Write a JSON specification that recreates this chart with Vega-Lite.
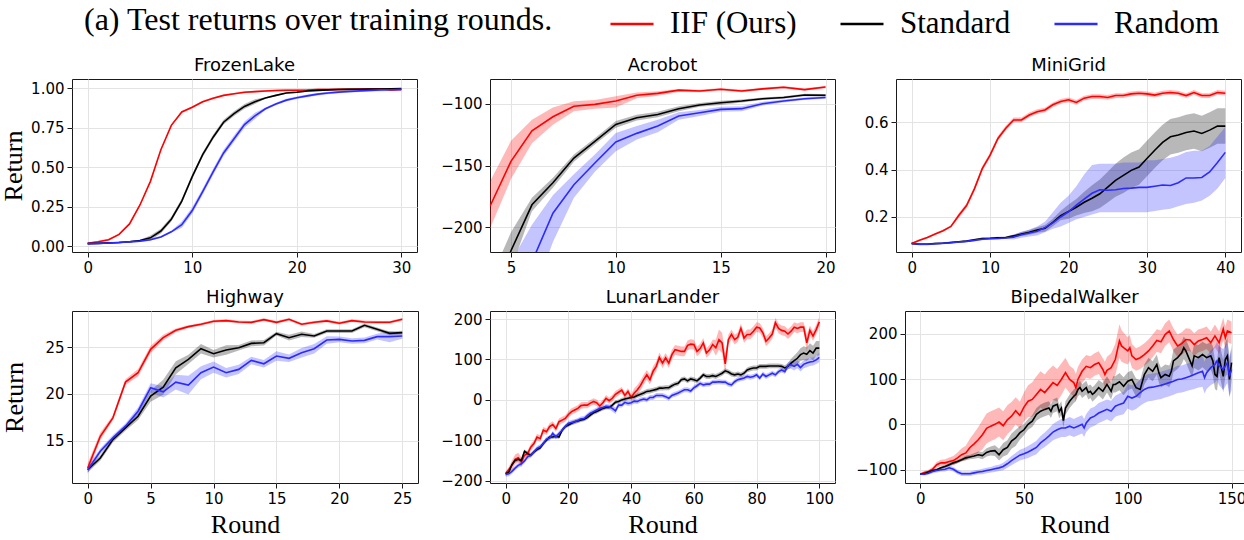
{
"$schema": "https://vega.github.io/schema/vega-lite/v6.json",
"padding": {"left": 0, "top": 1, "right": 0, "bottom": 0},
"background": "white",
"config": {
  "font": "DejaVu Sans",
  "view": {"stroke": "#1a1a1a", "strokeWidth": 1},
  "axis": {"domain": false, "grid": true, "gridColor": "#e3e3e3", "gridWidth": 1, "ticks": true, "tickColor": "#1a1a1a", "tickSize": 5, "tickWidth": 1, "labelFont": "DejaVu Sans", "labelFontSize": 15, "labelColor": "#000", "labelPadding": 3, "labelFlush": false, "labelOverlap": false, "titleFont": "Liberation Serif", "titleFontSize": 26, "titleFontWeight": "normal", "titleColor": "#000", "titlePadding": 4},
  "axisX": {"titlePadding": 5},
  "title": {"font": "DejaVu Sans", "fontSize": 18, "fontWeight": "normal", "color": "#000", "offset": 4, "anchor": "middle"}
},
"datasets": {
"fl": [
{"m":"IIF (Ours)","x":0,"y":0.017,"lo":0.011,"hi":0.023},{"m":"IIF (Ours)","x":1,"y":0.027,"lo":0.021,"hi":0.033},{"m":"IIF (Ours)","x":2,"y":0.04,"lo":0.034,"hi":0.046},{"m":"IIF (Ours)","x":3,"y":0.074,"lo":0.068,"hi":0.08},{"m":"IIF (Ours)","x":4,"y":0.14,"lo":0.134,"hi":0.146},{"m":"IIF (Ours)","x":5,"y":0.26,"lo":0.254,"hi":0.266},{"m":"IIF (Ours)","x":6,"y":0.41,"lo":0.404,"hi":0.416},{"m":"IIF (Ours)","x":7,"y":0.61,"lo":0.604,"hi":0.616},{"m":"IIF (Ours)","x":8,"y":0.765,"lo":0.759,"hi":0.771},{"m":"IIF (Ours)","x":9,"y":0.85,"lo":0.844,"hi":0.856},{"m":"IIF (Ours)","x":10,"y":0.88,"lo":0.874,"hi":0.886},{"m":"IIF (Ours)","x":11,"y":0.915,"lo":0.909,"hi":0.921},{"m":"IIF (Ours)","x":12,"y":0.937,"lo":0.931,"hi":0.943},{"m":"IIF (Ours)","x":13,"y":0.955,"lo":0.949,"hi":0.961},{"m":"IIF (Ours)","x":14,"y":0.965,"lo":0.959,"hi":0.971},{"m":"IIF (Ours)","x":15,"y":0.975,"lo":0.969,"hi":0.981},{"m":"IIF (Ours)","x":16,"y":0.979,"lo":0.973,"hi":0.985},{"m":"IIF (Ours)","x":17,"y":0.983,"lo":0.977,"hi":0.989},{"m":"IIF (Ours)","x":18,"y":0.986,"lo":0.98,"hi":0.992},{"m":"IIF (Ours)","x":19,"y":0.988,"lo":0.982,"hi":0.994},{"m":"IIF (Ours)","x":20,"y":0.988,"lo":0.982,"hi":0.994},{"m":"IIF (Ours)","x":21,"y":0.989,"lo":0.983,"hi":0.995},{"m":"IIF (Ours)","x":22,"y":0.992,"lo":0.986,"hi":0.998},{"m":"IIF (Ours)","x":23,"y":0.992,"lo":0.986,"hi":0.998},{"m":"IIF (Ours)","x":24,"y":0.993,"lo":0.987,"hi":0.999},{"m":"IIF (Ours)","x":25,"y":0.994,"lo":0.988,"hi":1.0},{"m":"IIF (Ours)","x":26,"y":0.995,"lo":0.989,"hi":1.0},{"m":"IIF (Ours)","x":27,"y":0.996,"lo":0.99,"hi":1.0},{"m":"IIF (Ours)","x":28,"y":0.997,"lo":0.991,"hi":1.0},{"m":"IIF (Ours)","x":29,"y":0.99,"lo":0.984,"hi":0.996},{"m":"IIF (Ours)","x":30,"y":0.993,"lo":0.987,"hi":0.999},
{"m":"Standard","x":0,"y":0.015,"lo":0.011,"hi":0.019},{"m":"Standard","x":1,"y":0.017,"lo":0.013,"hi":0.021},{"m":"Standard","x":2,"y":0.02,"lo":0.016,"hi":0.024},{"m":"Standard","x":3,"y":0.022,"lo":0.018,"hi":0.026},{"m":"Standard","x":4,"y":0.027,"lo":0.023,"hi":0.031},{"m":"Standard","x":5,"y":0.035,"lo":0.031,"hi":0.039},{"m":"Standard","x":6,"y":0.052,"lo":0.037,"hi":0.067},{"m":"Standard","x":7,"y":0.095,"lo":0.08,"hi":0.11},{"m":"Standard","x":8,"y":0.17,"lo":0.155,"hi":0.185},{"m":"Standard","x":9,"y":0.285,"lo":0.27,"hi":0.3},{"m":"Standard","x":10,"y":0.44,"lo":0.425,"hi":0.455},{"m":"Standard","x":11,"y":0.58,"lo":0.565,"hi":0.595},{"m":"Standard","x":12,"y":0.69,"lo":0.675,"hi":0.705},{"m":"Standard","x":13,"y":0.785,"lo":0.77,"hi":0.8},{"m":"Standard","x":14,"y":0.84,"lo":0.825,"hi":0.855},{"m":"Standard","x":15,"y":0.885,"lo":0.87,"hi":0.9},{"m":"Standard","x":16,"y":0.915,"lo":0.9,"hi":0.93},{"m":"Standard","x":17,"y":0.938,"lo":0.933,"hi":0.943},{"m":"Standard","x":18,"y":0.955,"lo":0.95,"hi":0.96},{"m":"Standard","x":19,"y":0.97,"lo":0.965,"hi":0.975},{"m":"Standard","x":20,"y":0.975,"lo":0.97,"hi":0.98},{"m":"Standard","x":21,"y":0.983,"lo":0.978,"hi":0.988},{"m":"Standard","x":22,"y":0.987,"lo":0.982,"hi":0.992},{"m":"Standard","x":23,"y":0.99,"lo":0.985,"hi":0.995},{"m":"Standard","x":24,"y":0.992,"lo":0.987,"hi":0.997},{"m":"Standard","x":25,"y":0.993,"lo":0.988,"hi":0.998},{"m":"Standard","x":26,"y":0.994,"lo":0.989,"hi":0.999},{"m":"Standard","x":27,"y":0.995,"lo":0.99,"hi":1.0},{"m":"Standard","x":28,"y":0.996,"lo":0.991,"hi":1.0},{"m":"Standard","x":29,"y":0.997,"lo":0.992,"hi":1.0},{"m":"Standard","x":30,"y":0.998,"lo":0.993,"hi":1.0},
{"m":"Random","x":0,"y":0.015,"lo":0.009,"hi":0.021},{"m":"Random","x":1,"y":0.017,"lo":0.011,"hi":0.023},{"m":"Random","x":2,"y":0.019,"lo":0.013,"hi":0.025},{"m":"Random","x":3,"y":0.022,"lo":0.016,"hi":0.028},{"m":"Random","x":4,"y":0.026,"lo":0.02,"hi":0.032},{"m":"Random","x":5,"y":0.031,"lo":0.025,"hi":0.037},{"m":"Random","x":6,"y":0.04,"lo":0.034,"hi":0.046},{"m":"Random","x":7,"y":0.057,"lo":0.051,"hi":0.063},{"m":"Random","x":8,"y":0.09,"lo":0.084,"hi":0.096},{"m":"Random","x":9,"y":0.135,"lo":0.115,"hi":0.155},{"m":"Random","x":10,"y":0.225,"lo":0.205,"hi":0.245},{"m":"Random","x":11,"y":0.345,"lo":0.325,"hi":0.365},{"m":"Random","x":12,"y":0.47,"lo":0.45,"hi":0.49},{"m":"Random","x":13,"y":0.59,"lo":0.57,"hi":0.61},{"m":"Random","x":14,"y":0.68,"lo":0.66,"hi":0.7},{"m":"Random","x":15,"y":0.77,"lo":0.75,"hi":0.79},{"m":"Random","x":16,"y":0.825,"lo":0.805,"hi":0.845},{"m":"Random","x":17,"y":0.87,"lo":0.862,"hi":0.878},{"m":"Random","x":18,"y":0.9,"lo":0.892,"hi":0.908},{"m":"Random","x":19,"y":0.925,"lo":0.917,"hi":0.933},{"m":"Random","x":20,"y":0.94,"lo":0.932,"hi":0.948},{"m":"Random","x":21,"y":0.952,"lo":0.944,"hi":0.96},{"m":"Random","x":22,"y":0.963,"lo":0.955,"hi":0.971},{"m":"Random","x":23,"y":0.97,"lo":0.962,"hi":0.978},{"m":"Random","x":24,"y":0.976,"lo":0.968,"hi":0.984},{"m":"Random","x":25,"y":0.98,"lo":0.972,"hi":0.988},{"m":"Random","x":26,"y":0.984,"lo":0.976,"hi":0.992},{"m":"Random","x":27,"y":0.987,"lo":0.979,"hi":0.995},{"m":"Random","x":28,"y":0.99,"lo":0.982,"hi":0.998},{"m":"Random","x":29,"y":0.991,"lo":0.983,"hi":0.999},{"m":"Random","x":30,"y":0.993,"lo":0.985,"hi":1.0}
],
"ac": [
{"m":"IIF (Ours)","x":4,"y":-183,"lo":-201,"hi":-163},{"m":"IIF (Ours)","x":5,"y":-146.6,"lo":-161,"hi":-130},{"m":"IIF (Ours)","x":6,"y":-122,"lo":-132,"hi":-113},{"m":"IIF (Ours)","x":7,"y":-110.6,"lo":-117,"hi":-103},{"m":"IIF (Ours)","x":8,"y":-102,"lo":-106,"hi":-98},{"m":"IIF (Ours)","x":9,"y":-100.5,"lo":-104,"hi":-97},{"m":"IIF (Ours)","x":10,"y":-97.8,"lo":-103,"hi":-94},{"m":"IIF (Ours)","x":11,"y":-93.2,"lo":-95.5,"hi":-91},{"m":"IIF (Ours)","x":12,"y":-91.6,"lo":-93.5,"hi":-90},{"m":"IIF (Ours)","x":13,"y":-89,"lo":-90.5,"hi":-88},{"m":"IIF (Ours)","x":14,"y":-89.7,"lo":-90.7,"hi":-88.7},{"m":"IIF (Ours)","x":15,"y":-88.3,"lo":-89.3,"hi":-87.3},{"m":"IIF (Ours)","x":16,"y":-89.7,"lo":-90.7,"hi":-88.7},{"m":"IIF (Ours)","x":17,"y":-88,"lo":-89,"hi":-87},{"m":"IIF (Ours)","x":18,"y":-86.7,"lo":-87.7,"hi":-85.7},{"m":"IIF (Ours)","x":19,"y":-88.6,"lo":-89.6,"hi":-87.6},{"m":"IIF (Ours)","x":20,"y":-86.5,"lo":-87.5,"hi":-85.5},
{"m":"Standard","x":4,"y":-265,"lo":-280,"hi":-243},{"m":"Standard","x":5,"y":-219,"lo":-234,"hi":-204},{"m":"Standard","x":6,"y":-181.8,"lo":-187,"hi":-176},{"m":"Standard","x":7,"y":-164,"lo":-168,"hi":-160},{"m":"Standard","x":8,"y":-144,"lo":-147,"hi":-141},{"m":"Standard","x":9,"y":-130.4,"lo":-133,"hi":-128},{"m":"Standard","x":10,"y":-116.8,"lo":-119.5,"hi":-114},{"m":"Standard","x":11,"y":-111.4,"lo":-113.5,"hi":-109},{"m":"Standard","x":12,"y":-108.7,"lo":-111,"hi":-106.5},{"m":"Standard","x":13,"y":-104,"lo":-106,"hi":-102},{"m":"Standard","x":14,"y":-101,"lo":-102.5,"hi":-99.5},{"m":"Standard","x":15,"y":-99.2,"lo":-101,"hi":-97.5},{"m":"Standard","x":16,"y":-97.8,"lo":-99,"hi":-96.5},{"m":"Standard","x":17,"y":-96,"lo":-97,"hi":-95},{"m":"Standard","x":18,"y":-95,"lo":-96,"hi":-94},{"m":"Standard","x":19,"y":-93,"lo":-94,"hi":-92},{"m":"Standard","x":20,"y":-93.2,"lo":-94.2,"hi":-92.2},
{"m":"Random","x":5,"y":-265,"lo":-295,"hi":-228},{"m":"Random","x":6,"y":-228,"lo":-258,"hi":-198},{"m":"Random","x":7,"y":-188.6,"lo":-212,"hi":-174},{"m":"Random","x":8,"y":-165.6,"lo":-176,"hi":-157},{"m":"Random","x":9,"y":-148,"lo":-155,"hi":-141},{"m":"Random","x":10,"y":-130.9,"lo":-138.5,"hi":-123.6},{"m":"Random","x":11,"y":-124,"lo":-129,"hi":-118},{"m":"Random","x":12,"y":-118,"lo":-123,"hi":-113},{"m":"Random","x":13,"y":-110,"lo":-113,"hi":-107},{"m":"Random","x":14,"y":-107.3,"lo":-110,"hi":-105},{"m":"Random","x":15,"y":-104.6,"lo":-106.5,"hi":-102.5},{"m":"Random","x":16,"y":-104,"lo":-106,"hi":-102},{"m":"Random","x":17,"y":-100,"lo":-101.5,"hi":-98.5},{"m":"Random","x":18,"y":-97.8,"lo":-99,"hi":-96.5},{"m":"Random","x":19,"y":-96,"lo":-97,"hi":-95},{"m":"Random","x":20,"y":-95,"lo":-96,"hi":-94}
],
"mg": [
{"m":"IIF (Ours)","x":0,"y":0.088,"lo":0.084,"hi":0.092},{"m":"IIF (Ours)","x":1,"y":0.102,"lo":0.098,"hi":0.106},{"m":"IIF (Ours)","x":2,"y":0.113,"lo":0.109,"hi":0.117},{"m":"IIF (Ours)","x":3,"y":0.128,"lo":0.124,"hi":0.132},{"m":"IIF (Ours)","x":4,"y":0.142,"lo":0.138,"hi":0.146},{"m":"IIF (Ours)","x":5,"y":0.16,"lo":0.156,"hi":0.164},{"m":"IIF (Ours)","x":6,"y":0.206,"lo":0.196,"hi":0.216},{"m":"IIF (Ours)","x":7,"y":0.248,"lo":0.238,"hi":0.258},{"m":"IIF (Ours)","x":8,"y":0.319,"lo":0.309,"hi":0.329},{"m":"IIF (Ours)","x":9,"y":0.404,"lo":0.394,"hi":0.414},{"m":"IIF (Ours)","x":10,"y":0.461,"lo":0.451,"hi":0.471},{"m":"IIF (Ours)","x":11,"y":0.532,"lo":0.522,"hi":0.542},{"m":"IIF (Ours)","x":12,"y":0.575,"lo":0.565,"hi":0.585},{"m":"IIF (Ours)","x":13,"y":0.61,"lo":0.6,"hi":0.62},{"m":"IIF (Ours)","x":14,"y":0.61,"lo":0.6,"hi":0.62},{"m":"IIF (Ours)","x":15,"y":0.631,"lo":0.621,"hi":0.641},{"m":"IIF (Ours)","x":16,"y":0.645,"lo":0.635,"hi":0.655},{"m":"IIF (Ours)","x":17,"y":0.652,"lo":0.642,"hi":0.662},{"m":"IIF (Ours)","x":18,"y":0.674,"lo":0.664,"hi":0.684},{"m":"IIF (Ours)","x":19,"y":0.688,"lo":0.678,"hi":0.698},{"m":"IIF (Ours)","x":20,"y":0.695,"lo":0.685,"hi":0.705},{"m":"IIF (Ours)","x":21,"y":0.684,"lo":0.674,"hi":0.694},{"m":"IIF (Ours)","x":22,"y":0.702,"lo":0.692,"hi":0.712},{"m":"IIF (Ours)","x":23,"y":0.709,"lo":0.699,"hi":0.719},{"m":"IIF (Ours)","x":24,"y":0.709,"lo":0.699,"hi":0.719},{"m":"IIF (Ours)","x":25,"y":0.705,"lo":0.695,"hi":0.715},{"m":"IIF (Ours)","x":26,"y":0.713,"lo":0.703,"hi":0.723},{"m":"IIF (Ours)","x":27,"y":0.713,"lo":0.703,"hi":0.723},{"m":"IIF (Ours)","x":28,"y":0.72,"lo":0.71,"hi":0.73},{"m":"IIF (Ours)","x":29,"y":0.723,"lo":0.713,"hi":0.733},{"m":"IIF (Ours)","x":30,"y":0.72,"lo":0.71,"hi":0.73},{"m":"IIF (Ours)","x":31,"y":0.715,"lo":0.705,"hi":0.725},{"m":"IIF (Ours)","x":32,"y":0.723,"lo":0.713,"hi":0.733},{"m":"IIF (Ours)","x":33,"y":0.726,"lo":0.716,"hi":0.736},{"m":"IIF (Ours)","x":34,"y":0.723,"lo":0.713,"hi":0.733},{"m":"IIF (Ours)","x":35,"y":0.713,"lo":0.703,"hi":0.723},{"m":"IIF (Ours)","x":36,"y":0.726,"lo":0.716,"hi":0.736},{"m":"IIF (Ours)","x":37,"y":0.713,"lo":0.703,"hi":0.723},{"m":"IIF (Ours)","x":38,"y":0.713,"lo":0.703,"hi":0.723},{"m":"IIF (Ours)","x":39,"y":0.726,"lo":0.716,"hi":0.736},{"m":"IIF (Ours)","x":40,"y":0.723,"lo":0.713,"hi":0.733},
{"m":"Standard","x":0,"y":0.088,"lo":0.084,"hi":0.092},{"m":"Standard","x":1,"y":0.085,"lo":0.081,"hi":0.089},{"m":"Standard","x":2,"y":0.085,"lo":0.081,"hi":0.089},{"m":"Standard","x":3,"y":0.088,"lo":0.084,"hi":0.092},{"m":"Standard","x":4,"y":0.089,"lo":0.085,"hi":0.093},{"m":"Standard","x":5,"y":0.092,"lo":0.088,"hi":0.096},{"m":"Standard","x":6,"y":0.095,"lo":0.091,"hi":0.099},{"m":"Standard","x":7,"y":0.098,"lo":0.094,"hi":0.102},{"m":"Standard","x":8,"y":0.104,"lo":0.1,"hi":0.108},{"m":"Standard","x":9,"y":0.109,"lo":0.105,"hi":0.113},{"m":"Standard","x":10,"y":0.11,"lo":0.106,"hi":0.114},{"m":"Standard","x":11,"y":0.112,"lo":0.108,"hi":0.116},{"m":"Standard","x":12,"y":0.113,"lo":0.109,"hi":0.117},{"m":"Standard","x":13,"y":0.12,"lo":0.114,"hi":0.126},{"m":"Standard","x":14,"y":0.128,"lo":0.12,"hi":0.136},{"m":"Standard","x":15,"y":0.135,"lo":0.125,"hi":0.145},{"m":"Standard","x":16,"y":0.145,"lo":0.133,"hi":0.157},{"m":"Standard","x":17,"y":0.152,"lo":0.138,"hi":0.166},{"m":"Standard","x":18,"y":0.177,"lo":0.161,"hi":0.193},{"m":"Standard","x":19,"y":0.206,"lo":0.186,"hi":0.226},{"m":"Standard","x":20,"y":0.223,"lo":0.193,"hi":0.253},{"m":"Standard","x":21,"y":0.241,"lo":0.206,"hi":0.276},{"m":"Standard","x":22,"y":0.262,"lo":0.217,"hi":0.307},{"m":"Standard","x":23,"y":0.279,"lo":0.224,"hi":0.334},{"m":"Standard","x":24,"y":0.298,"lo":0.238,"hi":0.358},{"m":"Standard","x":25,"y":0.326,"lo":0.261,"hi":0.391},{"m":"Standard","x":26,"y":0.355,"lo":0.285,"hi":0.425},{"m":"Standard","x":27,"y":0.376,"lo":0.301,"hi":0.451},{"m":"Standard","x":28,"y":0.397,"lo":0.322,"hi":0.472},{"m":"Standard","x":29,"y":0.411,"lo":0.336,"hi":0.486},{"m":"Standard","x":30,"y":0.447,"lo":0.372,"hi":0.522},{"m":"Standard","x":31,"y":0.482,"lo":0.407,"hi":0.557},{"m":"Standard","x":32,"y":0.515,"lo":0.44,"hi":0.59},{"m":"Standard","x":33,"y":0.539,"lo":0.464,"hi":0.614},{"m":"Standard","x":34,"y":0.546,"lo":0.471,"hi":0.621},{"m":"Standard","x":35,"y":0.557,"lo":0.482,"hi":0.632},{"m":"Standard","x":36,"y":0.563,"lo":0.488,"hi":0.638},{"m":"Standard","x":37,"y":0.553,"lo":0.478,"hi":0.628},{"m":"Standard","x":38,"y":0.567,"lo":0.492,"hi":0.642},{"m":"Standard","x":39,"y":0.584,"lo":0.509,"hi":0.659},{"m":"Standard","x":40,"y":0.584,"lo":0.509,"hi":0.659},
{"m":"Random","x":0,"y":0.088,"lo":0.084,"hi":0.092},{"m":"Random","x":1,"y":0.085,"lo":0.081,"hi":0.089},{"m":"Random","x":2,"y":0.085,"lo":0.081,"hi":0.089},{"m":"Random","x":3,"y":0.087,"lo":0.083,"hi":0.091},{"m":"Random","x":4,"y":0.089,"lo":0.085,"hi":0.093},{"m":"Random","x":5,"y":0.091,"lo":0.087,"hi":0.095},{"m":"Random","x":6,"y":0.094,"lo":0.09,"hi":0.098},{"m":"Random","x":7,"y":0.097,"lo":0.093,"hi":0.101},{"m":"Random","x":8,"y":0.101,"lo":0.097,"hi":0.105},{"m":"Random","x":9,"y":0.106,"lo":0.102,"hi":0.11},{"m":"Random","x":10,"y":0.108,"lo":0.104,"hi":0.112},{"m":"Random","x":11,"y":0.109,"lo":0.105,"hi":0.113},{"m":"Random","x":12,"y":0.111,"lo":0.107,"hi":0.115},{"m":"Random","x":13,"y":0.115,"lo":0.105,"hi":0.125},{"m":"Random","x":14,"y":0.125,"lo":0.112,"hi":0.138},{"m":"Random","x":15,"y":0.132,"lo":0.117,"hi":0.147},{"m":"Random","x":16,"y":0.14,"lo":0.122,"hi":0.16},{"m":"Random","x":17,"y":0.155,"lo":0.135,"hi":0.18},{"m":"Random","x":18,"y":0.175,"lo":0.15,"hi":0.22},{"m":"Random","x":19,"y":0.2,"lo":0.16,"hi":0.26},{"m":"Random","x":20,"y":0.222,"lo":0.175,"hi":0.29},{"m":"Random","x":21,"y":0.25,"lo":0.19,"hi":0.33},{"m":"Random","x":22,"y":0.275,"lo":0.2,"hi":0.38},{"m":"Random","x":23,"y":0.3,"lo":0.21,"hi":0.42},{"m":"Random","x":24,"y":0.315,"lo":0.22,"hi":0.425},{"m":"Random","x":25,"y":0.313,"lo":0.22,"hi":0.425},{"m":"Random","x":26,"y":0.315,"lo":0.22,"hi":0.425},{"m":"Random","x":27,"y":0.32,"lo":0.22,"hi":0.43},{"m":"Random","x":28,"y":0.322,"lo":0.22,"hi":0.43},{"m":"Random","x":29,"y":0.325,"lo":0.22,"hi":0.43},{"m":"Random","x":30,"y":0.325,"lo":0.22,"hi":0.44},{"m":"Random","x":31,"y":0.33,"lo":0.225,"hi":0.44},{"m":"Random","x":32,"y":0.335,"lo":0.23,"hi":0.445},{"m":"Random","x":33,"y":0.333,"lo":0.235,"hi":0.45},{"m":"Random","x":34,"y":0.345,"lo":0.245,"hi":0.46},{"m":"Random","x":35,"y":0.365,"lo":0.255,"hi":0.475},{"m":"Random","x":36,"y":0.365,"lo":0.26,"hi":0.48},{"m":"Random","x":37,"y":0.367,"lo":0.27,"hi":0.48},{"m":"Random","x":38,"y":0.39,"lo":0.29,"hi":0.5},{"m":"Random","x":39,"y":0.43,"lo":0.32,"hi":0.54},{"m":"Random","x":40,"y":0.473,"lo":0.365,"hi":0.58}
],
"hw": [
{"m":"IIF (Ours)","x":0,"y":12.07,"lo":11.57,"hi":12.57},{"m":"IIF (Ours)","x":1,"y":15.46,"lo":15.06,"hi":15.86},{"m":"IIF (Ours)","x":2,"y":17.43,"lo":17.18,"hi":17.68},{"m":"IIF (Ours)","x":3,"y":21.25,"lo":20.95,"hi":21.55},{"m":"IIF (Ours)","x":4,"y":22.25,"lo":21.85,"hi":22.65},{"m":"IIF (Ours)","x":5,"y":24.75,"lo":24.35,"hi":25.15},{"m":"IIF (Ours)","x":6,"y":26.0,"lo":25.7,"hi":26.3},{"m":"IIF (Ours)","x":7,"y":26.79,"lo":26.59,"hi":26.99},{"m":"IIF (Ours)","x":8,"y":27.18,"lo":27.03,"hi":27.33},{"m":"IIF (Ours)","x":9,"y":27.43,"lo":27.28,"hi":27.58},{"m":"IIF (Ours)","x":10,"y":27.75,"lo":27.6,"hi":27.9},{"m":"IIF (Ours)","x":11,"y":27.82,"lo":27.67,"hi":27.97},{"m":"IIF (Ours)","x":12,"y":27.68,"lo":27.53,"hi":27.83},{"m":"IIF (Ours)","x":13,"y":27.64,"lo":27.49,"hi":27.79},{"m":"IIF (Ours)","x":14,"y":27.93,"lo":27.78,"hi":28.08},{"m":"IIF (Ours)","x":15,"y":27.64,"lo":27.49,"hi":27.79},{"m":"IIF (Ours)","x":16,"y":27.96,"lo":27.81,"hi":28.11},{"m":"IIF (Ours)","x":17,"y":27.43,"lo":27.28,"hi":27.58},{"m":"IIF (Ours)","x":18,"y":27.64,"lo":27.49,"hi":27.79},{"m":"IIF (Ours)","x":19,"y":27.79,"lo":27.64,"hi":27.94},{"m":"IIF (Ours)","x":20,"y":27.54,"lo":27.39,"hi":27.69},{"m":"IIF (Ours)","x":21,"y":27.82,"lo":27.67,"hi":27.97},{"m":"IIF (Ours)","x":22,"y":27.68,"lo":27.53,"hi":27.83},{"m":"IIF (Ours)","x":23,"y":27.64,"lo":27.49,"hi":27.79},{"m":"IIF (Ours)","x":24,"y":27.64,"lo":27.49,"hi":27.79},{"m":"IIF (Ours)","x":25,"y":27.96,"lo":27.81,"hi":28.11},
{"m":"Standard","x":0,"y":11.89,"lo":11.59,"hi":12.19},{"m":"Standard","x":1,"y":13.14,"lo":12.84,"hi":13.44},{"m":"Standard","x":2,"y":15.1,"lo":14.8,"hi":15.4},{"m":"Standard","x":3,"y":16.36,"lo":16.06,"hi":16.66},{"m":"Standard","x":4,"y":17.6,"lo":17.2,"hi":18.0},{"m":"Standard","x":5,"y":19.75,"lo":19.15,"hi":20.35},{"m":"Standard","x":6,"y":20.71,"lo":19.91,"hi":21.51},{"m":"Standard","x":7,"y":22.79,"lo":22.09,"hi":23.49},{"m":"Standard","x":8,"y":23.68,"lo":23.18,"hi":24.18},{"m":"Standard","x":9,"y":24.82,"lo":24.32,"hi":25.32},{"m":"Standard","x":10,"y":24.29,"lo":23.89,"hi":24.69},{"m":"Standard","x":11,"y":24.68,"lo":24.18,"hi":25.18},{"m":"Standard","x":12,"y":24.93,"lo":24.63,"hi":25.23},{"m":"Standard","x":13,"y":25.39,"lo":25.09,"hi":25.69},{"m":"Standard","x":14,"y":25.46,"lo":25.16,"hi":25.76},{"m":"Standard","x":15,"y":26.43,"lo":26.23,"hi":26.63},{"m":"Standard","x":16,"y":26.0,"lo":25.7,"hi":26.3},{"m":"Standard","x":17,"y":26.36,"lo":26.06,"hi":26.66},{"m":"Standard","x":18,"y":26.18,"lo":25.98,"hi":26.38},{"m":"Standard","x":19,"y":26.71,"lo":26.51,"hi":26.91},{"m":"Standard","x":20,"y":26.71,"lo":26.51,"hi":26.91},{"m":"Standard","x":21,"y":26.71,"lo":26.51,"hi":26.91},{"m":"Standard","x":22,"y":27.32,"lo":27.12,"hi":27.52},{"m":"Standard","x":23,"y":26.89,"lo":26.69,"hi":27.09},{"m":"Standard","x":24,"y":26.46,"lo":26.26,"hi":26.66},{"m":"Standard","x":25,"y":26.54,"lo":26.34,"hi":26.74},
{"m":"Random","x":0,"y":11.89,"lo":11.49,"hi":12.29},{"m":"Random","x":1,"y":13.86,"lo":13.56,"hi":14.16},{"m":"Random","x":2,"y":15.29,"lo":14.99,"hi":15.59},{"m":"Random","x":3,"y":16.54,"lo":16.24,"hi":16.84},{"m":"Random","x":4,"y":18.14,"lo":17.74,"hi":18.54},{"m":"Random","x":5,"y":20.64,"lo":20.14,"hi":21.14},{"m":"Random","x":6,"y":20.21,"lo":19.61,"hi":20.81},{"m":"Random","x":7,"y":21.25,"lo":20.45,"hi":22.05},{"m":"Random","x":8,"y":20.93,"lo":19.93,"hi":21.93},{"m":"Random","x":9,"y":22.25,"lo":21.55,"hi":22.95},{"m":"Random","x":10,"y":22.86,"lo":22.26,"hi":23.46},{"m":"Random","x":11,"y":22.25,"lo":21.75,"hi":22.75},{"m":"Random","x":12,"y":22.61,"lo":22.11,"hi":23.11},{"m":"Random","x":13,"y":23.57,"lo":23.17,"hi":23.97},{"m":"Random","x":14,"y":23.21,"lo":22.81,"hi":23.61},{"m":"Random","x":15,"y":24.04,"lo":23.54,"hi":24.54},{"m":"Random","x":16,"y":23.79,"lo":23.39,"hi":24.19},{"m":"Random","x":17,"y":24.39,"lo":23.89,"hi":24.89},{"m":"Random","x":18,"y":24.82,"lo":24.32,"hi":25.32},{"m":"Random","x":19,"y":25.75,"lo":25.35,"hi":26.15},{"m":"Random","x":20,"y":25.82,"lo":25.52,"hi":26.12},{"m":"Random","x":21,"y":25.64,"lo":25.34,"hi":25.94},{"m":"Random","x":22,"y":25.71,"lo":25.41,"hi":26.01},{"m":"Random","x":23,"y":26.11,"lo":25.81,"hi":26.41},{"m":"Random","x":24,"y":26.11,"lo":25.51,"hi":26.71},{"m":"Random","x":25,"y":26.18,"lo":25.88,"hi":26.48}
],
"ll": [
{"m":"IIF (Ours)","x":0,"y":-183,"lo":-189,"hi":-177},{"m":"IIF (Ours)","x":1,"y":-172,"lo":-178,"hi":-166},{"m":"IIF (Ours)","x":2,"y":-162,"lo":-174,"hi":-150},{"m":"IIF (Ours)","x":3,"y":-147,"lo":-159,"hi":-135},{"m":"IIF (Ours)","x":4,"y":-143,"lo":-155,"hi":-131},{"m":"IIF (Ours)","x":5,"y":-154,"lo":-166,"hi":-142},{"m":"IIF (Ours)","x":6,"y":-137,"lo":-145,"hi":-129},{"m":"IIF (Ours)","x":7,"y":-133,"lo":-141,"hi":-125},{"m":"IIF (Ours)","x":8,"y":-117,"lo":-125,"hi":-109},{"m":"IIF (Ours)","x":9,"y":-108,"lo":-116,"hi":-100},{"m":"IIF (Ours)","x":10,"y":-92,"lo":-100,"hi":-84},{"m":"IIF (Ours)","x":11,"y":-96,"lo":-104,"hi":-88},{"m":"IIF (Ours)","x":12,"y":-75,"lo":-83,"hi":-67},{"m":"IIF (Ours)","x":13,"y":-79,"lo":-87,"hi":-71},{"m":"IIF (Ours)","x":14,"y":-66,"lo":-74,"hi":-58},{"m":"IIF (Ours)","x":15,"y":-61,"lo":-69,"hi":-53},{"m":"IIF (Ours)","x":16,"y":-71,"lo":-79,"hi":-63},{"m":"IIF (Ours)","x":17,"y":-54,"lo":-62,"hi":-46},{"m":"IIF (Ours)","x":18,"y":-50,"lo":-58,"hi":-42},{"m":"IIF (Ours)","x":19,"y":-46,"lo":-54,"hi":-38},{"m":"IIF (Ours)","x":20,"y":-36,"lo":-44,"hi":-28},{"m":"IIF (Ours)","x":21,"y":-29,"lo":-37,"hi":-21},{"m":"IIF (Ours)","x":22,"y":-25,"lo":-33,"hi":-17},{"m":"IIF (Ours)","x":23,"y":-21,"lo":-29,"hi":-13},{"m":"IIF (Ours)","x":24,"y":-14,"lo":-22,"hi":-6},{"m":"IIF (Ours)","x":25,"y":-13,"lo":-21,"hi":-5},{"m":"IIF (Ours)","x":26,"y":-13,"lo":-21,"hi":-5},{"m":"IIF (Ours)","x":27,"y":-8,"lo":-16,"hi":0},{"m":"IIF (Ours)","x":28,"y":-4,"lo":-12,"hi":4},{"m":"IIF (Ours)","x":29,"y":-7,"lo":-15,"hi":1},{"m":"IIF (Ours)","x":30,"y":-15,"lo":-23,"hi":-7},{"m":"IIF (Ours)","x":31,"y":-7,"lo":-15,"hi":1},{"m":"IIF (Ours)","x":32,"y":4,"lo":-4,"hi":12},{"m":"IIF (Ours)","x":33,"y":-2,"lo":-10,"hi":6},{"m":"IIF (Ours)","x":34,"y":4,"lo":-4,"hi":12},{"m":"IIF (Ours)","x":35,"y":14,"lo":6,"hi":22},{"m":"IIF (Ours)","x":36,"y":19,"lo":11,"hi":27},{"m":"IIF (Ours)","x":37,"y":24,"lo":16,"hi":32},{"m":"IIF (Ours)","x":38,"y":11,"lo":3,"hi":19},{"m":"IIF (Ours)","x":39,"y":21,"lo":13,"hi":29},{"m":"IIF (Ours)","x":40,"y":6,"lo":-2,"hi":14},{"m":"IIF (Ours)","x":41,"y":17,"lo":5,"hi":29},{"m":"IIF (Ours)","x":42,"y":25,"lo":13,"hi":37},{"m":"IIF (Ours)","x":43,"y":36,"lo":24,"hi":48},{"m":"IIF (Ours)","x":44,"y":50,"lo":38,"hi":62},{"m":"IIF (Ours)","x":45,"y":62,"lo":50,"hi":74},{"m":"IIF (Ours)","x":46,"y":50,"lo":38,"hi":62},{"m":"IIF (Ours)","x":47,"y":71,"lo":59,"hi":83},{"m":"IIF (Ours)","x":48,"y":83,"lo":71,"hi":95},{"m":"IIF (Ours)","x":49,"y":105,"lo":93,"hi":117},{"m":"IIF (Ours)","x":50,"y":91,"lo":79,"hi":103},{"m":"IIF (Ours)","x":51,"y":104,"lo":92,"hi":116},{"m":"IIF (Ours)","x":52,"y":91,"lo":79,"hi":103},{"m":"IIF (Ours)","x":53,"y":112,"lo":100,"hi":124},{"m":"IIF (Ours)","x":54,"y":124,"lo":112,"hi":136},{"m":"IIF (Ours)","x":55,"y":122,"lo":110,"hi":134},{"m":"IIF (Ours)","x":56,"y":120,"lo":108,"hi":132},{"m":"IIF (Ours)","x":57,"y":120,"lo":108,"hi":132},{"m":"IIF (Ours)","x":58,"y":135,"lo":123,"hi":147},{"m":"IIF (Ours)","x":59,"y":138,"lo":126,"hi":150},{"m":"IIF (Ours)","x":60,"y":137,"lo":125,"hi":149},{"m":"IIF (Ours)","x":61,"y":120,"lo":108,"hi":132},{"m":"IIF (Ours)","x":62,"y":127,"lo":115,"hi":139},{"m":"IIF (Ours)","x":63,"y":141,"lo":129,"hi":153},{"m":"IIF (Ours)","x":64,"y":116,"lo":104,"hi":128},{"m":"IIF (Ours)","x":65,"y":124,"lo":112,"hi":136},{"m":"IIF (Ours)","x":66,"y":137,"lo":125,"hi":149},{"m":"IIF (Ours)","x":67,"y":129,"lo":109,"hi":149},{"m":"IIF (Ours)","x":68,"y":149,"lo":124,"hi":174},{"m":"IIF (Ours)","x":69,"y":141,"lo":116,"hi":166},{"m":"IIF (Ours)","x":70,"y":89,"lo":64,"hi":114},{"m":"IIF (Ours)","x":71,"y":149,"lo":137,"hi":161},{"m":"IIF (Ours)","x":72,"y":162,"lo":150,"hi":174},{"m":"IIF (Ours)","x":73,"y":149,"lo":137,"hi":161},{"m":"IIF (Ours)","x":74,"y":155,"lo":143,"hi":167},{"m":"IIF (Ours)","x":75,"y":177,"lo":165,"hi":189},{"m":"IIF (Ours)","x":76,"y":153,"lo":141,"hi":165},{"m":"IIF (Ours)","x":77,"y":162,"lo":150,"hi":174},{"m":"IIF (Ours)","x":78,"y":162,"lo":150,"hi":174},{"m":"IIF (Ours)","x":79,"y":170,"lo":158,"hi":182},{"m":"IIF (Ours)","x":80,"y":180,"lo":168,"hi":192},{"m":"IIF (Ours)","x":81,"y":178,"lo":166,"hi":190},{"m":"IIF (Ours)","x":82,"y":166,"lo":154,"hi":178},{"m":"IIF (Ours)","x":83,"y":145,"lo":133,"hi":157},{"m":"IIF (Ours)","x":84,"y":153,"lo":141,"hi":165},{"m":"IIF (Ours)","x":85,"y":163,"lo":151,"hi":175},{"m":"IIF (Ours)","x":86,"y":191,"lo":179,"hi":203},{"m":"IIF (Ours)","x":87,"y":177,"lo":165,"hi":189},{"m":"IIF (Ours)","x":88,"y":172,"lo":160,"hi":184},{"m":"IIF (Ours)","x":89,"y":170,"lo":158,"hi":182},{"m":"IIF (Ours)","x":90,"y":163,"lo":151,"hi":175},{"m":"IIF (Ours)","x":91,"y":170,"lo":158,"hi":182},{"m":"IIF (Ours)","x":92,"y":180,"lo":168,"hi":192},{"m":"IIF (Ours)","x":93,"y":177,"lo":165,"hi":189},{"m":"IIF (Ours)","x":94,"y":180,"lo":168,"hi":192},{"m":"IIF (Ours)","x":95,"y":180,"lo":168,"hi":192},{"m":"IIF (Ours)","x":96,"y":141,"lo":121,"hi":161},{"m":"IIF (Ours)","x":97,"y":172,"lo":160,"hi":184},{"m":"IIF (Ours)","x":98,"y":158,"lo":146,"hi":170},{"m":"IIF (Ours)","x":99,"y":174,"lo":162,"hi":186},{"m":"IIF (Ours)","x":100,"y":193,"lo":181,"hi":205},
{"m":"Standard","x":0,"y":-183,"lo":-188,"hi":-178},{"m":"Standard","x":1,"y":-179,"lo":-184,"hi":-174},{"m":"Standard","x":2,"y":-160,"lo":-165,"hi":-155},{"m":"Standard","x":3,"y":-150,"lo":-155,"hi":-145},{"m":"Standard","x":4,"y":-147,"lo":-152,"hi":-142},{"m":"Standard","x":5,"y":-150,"lo":-155,"hi":-145},{"m":"Standard","x":6,"y":-127,"lo":-132,"hi":-122},{"m":"Standard","x":7,"y":-133,"lo":-138,"hi":-128},{"m":"Standard","x":8,"y":-137,"lo":-142,"hi":-132},{"m":"Standard","x":9,"y":-129,"lo":-134,"hi":-124},{"m":"Standard","x":10,"y":-123,"lo":-128,"hi":-118},{"m":"Standard","x":11,"y":-119,"lo":-124,"hi":-114},{"m":"Standard","x":12,"y":-108,"lo":-113,"hi":-103},{"m":"Standard","x":13,"y":-100,"lo":-105,"hi":-95},{"m":"Standard","x":14,"y":-92,"lo":-97,"hi":-87},{"m":"Standard","x":15,"y":-92,"lo":-97,"hi":-87},{"m":"Standard","x":16,"y":-90,"lo":-95,"hi":-85},{"m":"Standard","x":17,"y":-92,"lo":-97,"hi":-87},{"m":"Standard","x":18,"y":-75,"lo":-80,"hi":-70},{"m":"Standard","x":19,"y":-66,"lo":-71,"hi":-61},{"m":"Standard","x":20,"y":-62,"lo":-67,"hi":-57},{"m":"Standard","x":21,"y":-58,"lo":-63,"hi":-53},{"m":"Standard","x":22,"y":-54,"lo":-59,"hi":-49},{"m":"Standard","x":23,"y":-52,"lo":-57,"hi":-47},{"m":"Standard","x":24,"y":-50,"lo":-55,"hi":-45},{"m":"Standard","x":25,"y":-48,"lo":-53,"hi":-43},{"m":"Standard","x":26,"y":-44,"lo":-49,"hi":-39},{"m":"Standard","x":27,"y":-38,"lo":-43,"hi":-33},{"m":"Standard","x":28,"y":-32,"lo":-37,"hi":-27},{"m":"Standard","x":29,"y":-29,"lo":-34,"hi":-24},{"m":"Standard","x":30,"y":-25,"lo":-30,"hi":-20},{"m":"Standard","x":31,"y":-21,"lo":-26,"hi":-16},{"m":"Standard","x":32,"y":-19,"lo":-24,"hi":-14},{"m":"Standard","x":33,"y":-19,"lo":-24,"hi":-14},{"m":"Standard","x":34,"y":-13,"lo":-18,"hi":-8},{"m":"Standard","x":35,"y":-6,"lo":-11,"hi":-1},{"m":"Standard","x":36,"y":-4,"lo":-9,"hi":1},{"m":"Standard","x":37,"y":0,"lo":-5,"hi":5},{"m":"Standard","x":38,"y":2,"lo":-3,"hi":7},{"m":"Standard","x":39,"y":4,"lo":-1,"hi":9},{"m":"Standard","x":40,"y":6,"lo":1,"hi":11},{"m":"Standard","x":41,"y":7,"lo":1,"hi":13},{"m":"Standard","x":42,"y":11,"lo":5,"hi":17},{"m":"Standard","x":43,"y":14,"lo":8,"hi":20},{"m":"Standard","x":44,"y":17,"lo":11,"hi":23},{"m":"Standard","x":45,"y":21,"lo":15,"hi":27},{"m":"Standard","x":46,"y":22,"lo":16,"hi":28},{"m":"Standard","x":47,"y":24,"lo":18,"hi":30},{"m":"Standard","x":48,"y":26,"lo":20,"hi":32},{"m":"Standard","x":49,"y":29,"lo":23,"hi":35},{"m":"Standard","x":50,"y":29,"lo":23,"hi":35},{"m":"Standard","x":51,"y":30,"lo":24,"hi":36},{"m":"Standard","x":52,"y":30,"lo":24,"hi":36},{"m":"Standard","x":53,"y":35,"lo":29,"hi":41},{"m":"Standard","x":54,"y":39,"lo":33,"hi":45},{"m":"Standard","x":55,"y":41,"lo":35,"hi":47},{"m":"Standard","x":56,"y":50,"lo":44,"hi":56},{"m":"Standard","x":57,"y":52,"lo":46,"hi":58},{"m":"Standard","x":58,"y":47,"lo":41,"hi":53},{"m":"Standard","x":59,"y":52,"lo":46,"hi":58},{"m":"Standard","x":60,"y":50,"lo":44,"hi":56},{"m":"Standard","x":61,"y":47,"lo":41,"hi":53},{"m":"Standard","x":62,"y":54,"lo":48,"hi":60},{"m":"Standard","x":63,"y":62,"lo":56,"hi":68},{"m":"Standard","x":64,"y":58,"lo":52,"hi":64},{"m":"Standard","x":65,"y":58,"lo":52,"hi":64},{"m":"Standard","x":66,"y":60,"lo":54,"hi":66},{"m":"Standard","x":67,"y":58,"lo":52,"hi":64},{"m":"Standard","x":68,"y":62,"lo":56,"hi":68},{"m":"Standard","x":69,"y":66,"lo":60,"hi":72},{"m":"Standard","x":70,"y":72,"lo":66,"hi":78},{"m":"Standard","x":71,"y":69,"lo":63,"hi":75},{"m":"Standard","x":72,"y":64,"lo":58,"hi":70},{"m":"Standard","x":73,"y":62,"lo":56,"hi":68},{"m":"Standard","x":74,"y":64,"lo":58,"hi":70},{"m":"Standard","x":75,"y":62,"lo":56,"hi":68},{"m":"Standard","x":76,"y":66,"lo":60,"hi":72},{"m":"Standard","x":77,"y":74,"lo":68,"hi":80},{"m":"Standard","x":78,"y":77,"lo":71,"hi":83},{"m":"Standard","x":79,"y":79,"lo":73,"hi":85},{"m":"Standard","x":80,"y":79,"lo":73,"hi":85},{"m":"Standard","x":81,"y":83,"lo":77,"hi":89},{"m":"Standard","x":82,"y":83,"lo":77,"hi":89},{"m":"Standard","x":83,"y":83,"lo":77,"hi":89},{"m":"Standard","x":84,"y":84,"lo":78,"hi":90},{"m":"Standard","x":85,"y":84,"lo":78,"hi":90},{"m":"Standard","x":86,"y":84,"lo":78,"hi":90},{"m":"Standard","x":87,"y":84,"lo":78,"hi":90},{"m":"Standard","x":88,"y":83,"lo":77,"hi":89},{"m":"Standard","x":89,"y":79,"lo":72,"hi":86},{"m":"Standard","x":90,"y":83,"lo":75,"hi":91},{"m":"Standard","x":91,"y":91,"lo":80,"hi":102},{"m":"Standard","x":92,"y":97,"lo":84,"hi":110},{"m":"Standard","x":93,"y":103,"lo":88,"hi":118},{"m":"Standard","x":94,"y":112,"lo":96,"hi":128},{"m":"Standard","x":95,"y":116,"lo":99,"hi":133},{"m":"Standard","x":96,"y":113,"lo":96,"hi":130},{"m":"Standard","x":97,"y":122,"lo":104,"hi":140},{"m":"Standard","x":98,"y":116,"lo":98,"hi":134},{"m":"Standard","x":99,"y":128,"lo":110,"hi":146},{"m":"Standard","x":100,"y":128,"lo":110,"hi":146},
{"m":"Random","x":0,"y":-184,"lo":-190,"hi":-178},{"m":"Random","x":1,"y":-183,"lo":-189,"hi":-177},{"m":"Random","x":2,"y":-177,"lo":-183,"hi":-171},{"m":"Random","x":3,"y":-169,"lo":-175,"hi":-163},{"m":"Random","x":4,"y":-162,"lo":-168,"hi":-156},{"m":"Random","x":5,"y":-158,"lo":-164,"hi":-152},{"m":"Random","x":6,"y":-151,"lo":-157,"hi":-145},{"m":"Random","x":7,"y":-141,"lo":-147,"hi":-135},{"m":"Random","x":8,"y":-137,"lo":-143,"hi":-131},{"m":"Random","x":9,"y":-129,"lo":-135,"hi":-123},{"m":"Random","x":10,"y":-120,"lo":-126,"hi":-114},{"m":"Random","x":11,"y":-116,"lo":-122,"hi":-110},{"m":"Random","x":12,"y":-108,"lo":-114,"hi":-102},{"m":"Random","x":13,"y":-97,"lo":-103,"hi":-91},{"m":"Random","x":14,"y":-95,"lo":-101,"hi":-89},{"m":"Random","x":15,"y":-83,"lo":-89,"hi":-77},{"m":"Random","x":16,"y":-92,"lo":-98,"hi":-86},{"m":"Random","x":17,"y":-83,"lo":-89,"hi":-77},{"m":"Random","x":18,"y":-75,"lo":-81,"hi":-69},{"m":"Random","x":19,"y":-66,"lo":-72,"hi":-60},{"m":"Random","x":20,"y":-58,"lo":-64,"hi":-52},{"m":"Random","x":21,"y":-56,"lo":-62,"hi":-50},{"m":"Random","x":22,"y":-54,"lo":-60,"hi":-48},{"m":"Random","x":23,"y":-51,"lo":-57,"hi":-45},{"m":"Random","x":24,"y":-47,"lo":-53,"hi":-41},{"m":"Random","x":25,"y":-46,"lo":-52,"hi":-40},{"m":"Random","x":26,"y":-39,"lo":-45,"hi":-33},{"m":"Random","x":27,"y":-33,"lo":-39,"hi":-27},{"m":"Random","x":28,"y":-29,"lo":-35,"hi":-23},{"m":"Random","x":29,"y":-25,"lo":-31,"hi":-19},{"m":"Random","x":30,"y":-21,"lo":-27,"hi":-15},{"m":"Random","x":31,"y":-19,"lo":-25,"hi":-13},{"m":"Random","x":32,"y":-16,"lo":-22,"hi":-10},{"m":"Random","x":33,"y":-17,"lo":-23,"hi":-11},{"m":"Random","x":34,"y":-21,"lo":-29,"hi":-13},{"m":"Random","x":35,"y":-27,"lo":-35,"hi":-19},{"m":"Random","x":36,"y":-13,"lo":-19,"hi":-7},{"m":"Random","x":37,"y":-13,"lo":-19,"hi":-7},{"m":"Random","x":38,"y":-6,"lo":-12,"hi":0},{"m":"Random","x":39,"y":-9,"lo":-15,"hi":-3},{"m":"Random","x":40,"y":-7,"lo":-13,"hi":-1},{"m":"Random","x":41,"y":-3,"lo":-9,"hi":3},{"m":"Random","x":42,"y":-4,"lo":-10,"hi":2},{"m":"Random","x":43,"y":0,"lo":-6,"hi":6},{"m":"Random","x":44,"y":2,"lo":-4,"hi":8},{"m":"Random","x":45,"y":0,"lo":-6,"hi":6},{"m":"Random","x":46,"y":6,"lo":0,"hi":12},{"m":"Random","x":47,"y":6,"lo":0,"hi":12},{"m":"Random","x":48,"y":11,"lo":5,"hi":17},{"m":"Random","x":49,"y":11,"lo":5,"hi":17},{"m":"Random","x":50,"y":11,"lo":5,"hi":17},{"m":"Random","x":51,"y":8,"lo":2,"hi":14},{"m":"Random","x":52,"y":4,"lo":-2,"hi":10},{"m":"Random","x":53,"y":11,"lo":5,"hi":17},{"m":"Random","x":54,"y":14,"lo":8,"hi":20},{"m":"Random","x":55,"y":17,"lo":11,"hi":23},{"m":"Random","x":56,"y":21,"lo":15,"hi":27},{"m":"Random","x":57,"y":25,"lo":19,"hi":31},{"m":"Random","x":58,"y":25,"lo":19,"hi":31},{"m":"Random","x":59,"y":22,"lo":16,"hi":28},{"m":"Random","x":60,"y":30,"lo":24,"hi":36},{"m":"Random","x":61,"y":35,"lo":29,"hi":41},{"m":"Random","x":62,"y":41,"lo":35,"hi":47},{"m":"Random","x":63,"y":37,"lo":31,"hi":43},{"m":"Random","x":64,"y":39,"lo":33,"hi":45},{"m":"Random","x":65,"y":39,"lo":33,"hi":45},{"m":"Random","x":66,"y":44,"lo":38,"hi":50},{"m":"Random","x":67,"y":44,"lo":38,"hi":50},{"m":"Random","x":68,"y":45,"lo":39,"hi":51},{"m":"Random","x":69,"y":44,"lo":38,"hi":50},{"m":"Random","x":70,"y":44,"lo":38,"hi":50},{"m":"Random","x":71,"y":39,"lo":33,"hi":45},{"m":"Random","x":72,"y":37,"lo":31,"hi":43},{"m":"Random","x":73,"y":45,"lo":39,"hi":51},{"m":"Random","x":74,"y":50,"lo":44,"hi":56},{"m":"Random","x":75,"y":52,"lo":46,"hi":58},{"m":"Random","x":76,"y":54,"lo":48,"hi":60},{"m":"Random","x":77,"y":58,"lo":52,"hi":64},{"m":"Random","x":78,"y":56,"lo":50,"hi":62},{"m":"Random","x":79,"y":58,"lo":52,"hi":64},{"m":"Random","x":80,"y":62,"lo":56,"hi":68},{"m":"Random","x":81,"y":54,"lo":48,"hi":60},{"m":"Random","x":82,"y":64,"lo":58,"hi":70},{"m":"Random","x":83,"y":58,"lo":52,"hi":64},{"m":"Random","x":84,"y":62,"lo":56,"hi":68},{"m":"Random","x":85,"y":66,"lo":60,"hi":72},{"m":"Random","x":86,"y":62,"lo":56,"hi":68},{"m":"Random","x":87,"y":70,"lo":64,"hi":76},{"m":"Random","x":88,"y":74,"lo":68,"hi":80},{"m":"Random","x":89,"y":70,"lo":64,"hi":76},{"m":"Random","x":90,"y":85,"lo":77,"hi":93},{"m":"Random","x":91,"y":87,"lo":77,"hi":97},{"m":"Random","x":92,"y":83,"lo":73,"hi":93},{"m":"Random","x":93,"y":88,"lo":78,"hi":98},{"m":"Random","x":94,"y":80,"lo":70,"hi":90},{"m":"Random","x":95,"y":88,"lo":78,"hi":98},{"m":"Random","x":96,"y":91,"lo":81,"hi":101},{"m":"Random","x":97,"y":94,"lo":84,"hi":104},{"m":"Random","x":98,"y":95,"lo":85,"hi":105},{"m":"Random","x":99,"y":99,"lo":89,"hi":109},{"m":"Random","x":100,"y":105,"lo":93,"hi":117}
],
"bw": [
{"m":"IIF (Ours)","x":0,"y":-110,"lo":-112,"hi":-108},{"m":"IIF (Ours)","x":2,"y":-106,"lo":-109,"hi":-103},{"m":"IIF (Ours)","x":4,"y":-104,"lo":-108,"hi":-100},{"m":"IIF (Ours)","x":6,"y":-99,"lo":-104,"hi":-94},{"m":"IIF (Ours)","x":8,"y":-89,"lo":-95,"hi":-83},{"m":"IIF (Ours)","x":10,"y":-85,"lo":-92,"hi":-78},{"m":"IIF (Ours)","x":12,"y":-85,"lo":-93,"hi":-77},{"m":"IIF (Ours)","x":14,"y":-82,"lo":-91,"hi":-73},{"m":"IIF (Ours)","x":16,"y":-80,"lo":-90,"hi":-70},{"m":"IIF (Ours)","x":18,"y":-74,"lo":-86,"hi":-62},{"m":"IIF (Ours)","x":20,"y":-67,"lo":-81,"hi":-53},{"m":"IIF (Ours)","x":22,"y":-63,"lo":-79,"hi":-47},{"m":"IIF (Ours)","x":24,"y":-51,"lo":-71,"hi":-31},{"m":"IIF (Ours)","x":26,"y":-43,"lo":-67,"hi":-19},{"m":"IIF (Ours)","x":28,"y":-34,"lo":-62,"hi":-6},{"m":"IIF (Ours)","x":30,"y":-23,"lo":-55,"hi":9},{"m":"IIF (Ours)","x":32,"y":-9,"lo":-42,"hi":24},{"m":"IIF (Ours)","x":34,"y":-4,"lo":-37,"hi":29},{"m":"IIF (Ours)","x":36,"y":0,"lo":-33,"hi":33},{"m":"IIF (Ours)","x":38,"y":5,"lo":-27,"hi":37},{"m":"IIF (Ours)","x":40,"y":-3,"lo":-35,"hi":29},{"m":"IIF (Ours)","x":42,"y":10,"lo":-22,"hi":42},{"m":"IIF (Ours)","x":44,"y":18,"lo":-13,"hi":49},{"m":"IIF (Ours)","x":46,"y":30,"lo":0,"hi":60},{"m":"IIF (Ours)","x":48,"y":20,"lo":-10,"hi":50},{"m":"IIF (Ours)","x":50,"y":38,"lo":6,"hi":70},{"m":"IIF (Ours)","x":52,"y":51,"lo":16,"hi":86},{"m":"IIF (Ours)","x":54,"y":55,"lo":17,"hi":93},{"m":"IIF (Ours)","x":56,"y":66,"lo":26,"hi":106},{"m":"IIF (Ours)","x":58,"y":77,"lo":37,"hi":117},{"m":"IIF (Ours)","x":60,"y":70,"lo":30,"hi":110},{"m":"IIF (Ours)","x":62,"y":81,"lo":41,"hi":121},{"m":"IIF (Ours)","x":64,"y":92,"lo":54,"hi":130},{"m":"IIF (Ours)","x":66,"y":86,"lo":50,"hi":122},{"m":"IIF (Ours)","x":68,"y":99,"lo":64,"hi":134},{"m":"IIF (Ours)","x":70,"y":114,"lo":81,"hi":147},{"m":"IIF (Ours)","x":72,"y":99,"lo":69,"hi":129},{"m":"IIF (Ours)","x":74,"y":92,"lo":62,"hi":122},{"m":"IIF (Ours)","x":75,"y":81,"lo":51,"hi":111},{"m":"IIF (Ours)","x":76,"y":99,"lo":71,"hi":127},{"m":"IIF (Ours)","x":78,"y":117,"lo":91,"hi":143},{"m":"IIF (Ours)","x":80,"y":128,"lo":103,"hi":153},{"m":"IIF (Ours)","x":82,"y":125,"lo":100,"hi":150},{"m":"IIF (Ours)","x":84,"y":132,"lo":107,"hi":157},{"m":"IIF (Ours)","x":86,"y":136,"lo":111,"hi":161},{"m":"IIF (Ours)","x":88,"y":121,"lo":96,"hi":146},{"m":"IIF (Ours)","x":89,"y":110,"lo":82,"hi":138},{"m":"IIF (Ours)","x":90,"y":119,"lo":89,"hi":149},{"m":"IIF (Ours)","x":92,"y":125,"lo":93,"hi":157},{"m":"IIF (Ours)","x":94,"y":143,"lo":108,"hi":178},{"m":"IIF (Ours)","x":96,"y":184,"lo":147,"hi":221},{"m":"IIF (Ours)","x":97,"y":173,"lo":138,"hi":208},{"m":"IIF (Ours)","x":98,"y":169,"lo":136,"hi":202},{"m":"IIF (Ours)","x":100,"y":162,"lo":132,"hi":192},{"m":"IIF (Ours)","x":101,"y":169,"lo":141,"hi":197},{"m":"IIF (Ours)","x":102,"y":151,"lo":125,"hi":177},{"m":"IIF (Ours)","x":104,"y":143,"lo":118,"hi":168},{"m":"IIF (Ours)","x":106,"y":147,"lo":122,"hi":172},{"m":"IIF (Ours)","x":108,"y":154,"lo":129,"hi":179},{"m":"IIF (Ours)","x":110,"y":162,"lo":137,"hi":187},{"m":"IIF (Ours)","x":112,"y":173,"lo":148,"hi":198},{"m":"IIF (Ours)","x":114,"y":185,"lo":160,"hi":210},{"m":"IIF (Ours)","x":116,"y":182,"lo":157,"hi":207},{"m":"IIF (Ours)","x":118,"y":198,"lo":173,"hi":223},{"m":"IIF (Ours)","x":120,"y":206,"lo":181,"hi":231},{"m":"IIF (Ours)","x":122,"y":187,"lo":162,"hi":212},{"m":"IIF (Ours)","x":124,"y":173,"lo":148,"hi":198},{"m":"IIF (Ours)","x":126,"y":178,"lo":153,"hi":203},{"m":"IIF (Ours)","x":128,"y":187,"lo":162,"hi":212},{"m":"IIF (Ours)","x":130,"y":186,"lo":161,"hi":211},{"m":"IIF (Ours)","x":132,"y":176,"lo":151,"hi":201},{"m":"IIF (Ours)","x":134,"y":184,"lo":159,"hi":209},{"m":"IIF (Ours)","x":136,"y":187,"lo":162,"hi":212},{"m":"IIF (Ours)","x":138,"y":191,"lo":166,"hi":216},{"m":"IIF (Ours)","x":140,"y":180,"lo":155,"hi":205},{"m":"IIF (Ours)","x":142,"y":195,"lo":170,"hi":220},{"m":"IIF (Ours)","x":144,"y":180,"lo":155,"hi":205},{"m":"IIF (Ours)","x":146,"y":210,"lo":185,"hi":235},{"m":"IIF (Ours)","x":147,"y":191,"lo":166,"hi":216},{"m":"IIF (Ours)","x":148,"y":206,"lo":181,"hi":231},{"m":"IIF (Ours)","x":150,"y":202,"lo":177,"hi":227},
{"m":"Standard","x":0,"y":-110,"lo":-112,"hi":-108},{"m":"Standard","x":2,"y":-109,"lo":-111,"hi":-107},{"m":"Standard","x":4,"y":-105,"lo":-107,"hi":-103},{"m":"Standard","x":6,"y":-102,"lo":-105,"hi":-99},{"m":"Standard","x":8,"y":-100,"lo":-103,"hi":-97},{"m":"Standard","x":10,"y":-96,"lo":-99,"hi":-93},{"m":"Standard","x":12,"y":-93,"lo":-96,"hi":-90},{"m":"Standard","x":14,"y":-89,"lo":-93,"hi":-85},{"m":"Standard","x":16,"y":-85,"lo":-89,"hi":-81},{"m":"Standard","x":18,"y":-82,"lo":-86,"hi":-78},{"m":"Standard","x":20,"y":-78,"lo":-82,"hi":-74},{"m":"Standard","x":22,"y":-74,"lo":-79,"hi":-69},{"m":"Standard","x":24,"y":-72,"lo":-77,"hi":-67},{"m":"Standard","x":26,"y":-70,"lo":-76,"hi":-64},{"m":"Standard","x":28,"y":-67,"lo":-74,"hi":-60},{"m":"Standard","x":30,"y":-69,"lo":-77,"hi":-61},{"m":"Standard","x":32,"y":-62,"lo":-71,"hi":-53},{"m":"Standard","x":34,"y":-59,"lo":-69,"hi":-49},{"m":"Standard","x":36,"y":-58,"lo":-70,"hi":-46},{"m":"Standard","x":38,"y":-67,"lo":-80,"hi":-54},{"m":"Standard","x":40,"y":-56,"lo":-71,"hi":-41},{"m":"Standard","x":42,"y":-51,"lo":-67,"hi":-35},{"m":"Standard","x":44,"y":-37,"lo":-54,"hi":-20},{"m":"Standard","x":46,"y":-30,"lo":-48,"hi":-12},{"m":"Standard","x":48,"y":-19,"lo":-34,"hi":-4},{"m":"Standard","x":50,"y":-12,"lo":-24,"hi":0},{"m":"Standard","x":52,"y":0,"lo":-12,"hi":12},{"m":"Standard","x":54,"y":7,"lo":-6,"hi":20},{"m":"Standard","x":56,"y":22,"lo":8,"hi":36},{"m":"Standard","x":58,"y":29,"lo":14,"hi":44},{"m":"Standard","x":60,"y":33,"lo":18,"hi":48},{"m":"Standard","x":62,"y":36,"lo":21,"hi":51},{"m":"Standard","x":63,"y":29,"lo":14,"hi":44},{"m":"Standard","x":64,"y":40,"lo":25,"hi":55},{"m":"Standard","x":66,"y":44,"lo":29,"hi":59},{"m":"Standard","x":67,"y":28,"lo":13,"hi":43},{"m":"Standard","x":68,"y":36,"lo":21,"hi":51},{"m":"Standard","x":69,"y":8,"lo":-7,"hi":23},{"m":"Standard","x":70,"y":36,"lo":21,"hi":51},{"m":"Standard","x":72,"y":51,"lo":36,"hi":66},{"m":"Standard","x":74,"y":62,"lo":47,"hi":77},{"m":"Standard","x":75,"y":66,"lo":51,"hi":81},{"m":"Standard","x":76,"y":77,"lo":62,"hi":92},{"m":"Standard","x":77,"y":81,"lo":66,"hi":96},{"m":"Standard","x":78,"y":73,"lo":58,"hi":88},{"m":"Standard","x":80,"y":81,"lo":66,"hi":96},{"m":"Standard","x":81,"y":70,"lo":55,"hi":85},{"m":"Standard","x":82,"y":73,"lo":58,"hi":88},{"m":"Standard","x":83,"y":66,"lo":50,"hi":82},{"m":"Standard","x":84,"y":70,"lo":54,"hi":86},{"m":"Standard","x":86,"y":81,"lo":64,"hi":98},{"m":"Standard","x":88,"y":73,"lo":55,"hi":91},{"m":"Standard","x":90,"y":88,"lo":70,"hi":106},{"m":"Standard","x":92,"y":73,"lo":55,"hi":91},{"m":"Standard","x":93,"y":88,"lo":70,"hi":106},{"m":"Standard","x":94,"y":88,"lo":70,"hi":106},{"m":"Standard","x":96,"y":94,"lo":75,"hi":113},{"m":"Standard","x":98,"y":84,"lo":64,"hi":104},{"m":"Standard","x":100,"y":95,"lo":75,"hi":115},{"m":"Standard","x":102,"y":99,"lo":79,"hi":119},{"m":"Standard","x":104,"y":81,"lo":61,"hi":101},{"m":"Standard","x":106,"y":77,"lo":57,"hi":97},{"m":"Standard","x":108,"y":110,"lo":88,"hi":132},{"m":"Standard","x":110,"y":125,"lo":103,"hi":147},{"m":"Standard","x":112,"y":117,"lo":95,"hi":139},{"m":"Standard","x":114,"y":132,"lo":110,"hi":154},{"m":"Standard","x":115,"y":114,"lo":92,"hi":136},{"m":"Standard","x":116,"y":103,"lo":81,"hi":125},{"m":"Standard","x":118,"y":110,"lo":88,"hi":132},{"m":"Standard","x":120,"y":106,"lo":82,"hi":130},{"m":"Standard","x":121,"y":117,"lo":93,"hi":141},{"m":"Standard","x":122,"y":140,"lo":115,"hi":165},{"m":"Standard","x":124,"y":147,"lo":122,"hi":172},{"m":"Standard","x":126,"y":158,"lo":133,"hi":183},{"m":"Standard","x":127,"y":169,"lo":144,"hi":194},{"m":"Standard","x":128,"y":162,"lo":137,"hi":187},{"m":"Standard","x":130,"y":140,"lo":114,"hi":166},{"m":"Standard","x":131,"y":129,"lo":103,"hi":155},{"m":"Standard","x":132,"y":151,"lo":124,"hi":178},{"m":"Standard","x":134,"y":147,"lo":119,"hi":175},{"m":"Standard","x":136,"y":154,"lo":126,"hi":182},{"m":"Standard","x":138,"y":147,"lo":117,"hi":177},{"m":"Standard","x":140,"y":151,"lo":121,"hi":181},{"m":"Standard","x":141,"y":140,"lo":108,"hi":172},{"m":"Standard","x":142,"y":110,"lo":78,"hi":142},{"m":"Standard","x":143,"y":106,"lo":74,"hi":138},{"m":"Standard","x":144,"y":147,"lo":113,"hi":181},{"m":"Standard","x":146,"y":106,"lo":70,"hi":142},{"m":"Standard","x":147,"y":143,"lo":105,"hi":181},{"m":"Standard","x":148,"y":151,"lo":111,"hi":191},{"m":"Standard","x":149,"y":99,"lo":59,"hi":139},{"m":"Standard","x":150,"y":136,"lo":96,"hi":176},
{"m":"Random","x":0,"y":-110,"lo":-112,"hi":-108},{"m":"Random","x":2,"y":-110,"lo":-113,"hi":-107},{"m":"Random","x":4,"y":-108,"lo":-111,"hi":-105},{"m":"Random","x":6,"y":-104,"lo":-108,"hi":-100},{"m":"Random","x":8,"y":-102,"lo":-106,"hi":-98},{"m":"Random","x":10,"y":-100,"lo":-104,"hi":-96},{"m":"Random","x":12,"y":-99,"lo":-104,"hi":-94},{"m":"Random","x":14,"y":-96,"lo":-101,"hi":-91},{"m":"Random","x":16,"y":-99,"lo":-104,"hi":-94},{"m":"Random","x":18,"y":-105,"lo":-110,"hi":-100},{"m":"Random","x":20,"y":-109,"lo":-114,"hi":-104},{"m":"Random","x":22,"y":-109,"lo":-114,"hi":-104},{"m":"Random","x":24,"y":-109,"lo":-114,"hi":-104},{"m":"Random","x":26,"y":-107,"lo":-112,"hi":-102},{"m":"Random","x":28,"y":-105,"lo":-110,"hi":-100},{"m":"Random","x":30,"y":-104,"lo":-110,"hi":-98},{"m":"Random","x":32,"y":-102,"lo":-108,"hi":-96},{"m":"Random","x":34,"y":-100,"lo":-106,"hi":-94},{"m":"Random","x":36,"y":-98,"lo":-105,"hi":-91},{"m":"Random","x":38,"y":-96,"lo":-103,"hi":-89},{"m":"Random","x":40,"y":-93,"lo":-101,"hi":-85},{"m":"Random","x":42,"y":-87,"lo":-96,"hi":-78},{"m":"Random","x":44,"y":-80,"lo":-90,"hi":-70},{"m":"Random","x":46,"y":-74,"lo":-85,"hi":-63},{"m":"Random","x":48,"y":-68,"lo":-80,"hi":-56},{"m":"Random","x":50,"y":-65,"lo":-77,"hi":-53},{"m":"Random","x":52,"y":-61,"lo":-74,"hi":-48},{"m":"Random","x":54,"y":-56,"lo":-70,"hi":-42},{"m":"Random","x":56,"y":-51,"lo":-66,"hi":-36},{"m":"Random","x":58,"y":-41,"lo":-56,"hi":-26},{"m":"Random","x":60,"y":-34,"lo":-50,"hi":-18},{"m":"Random","x":62,"y":-26,"lo":-43,"hi":-9},{"m":"Random","x":64,"y":-17,"lo":-35,"hi":1},{"m":"Random","x":66,"y":-12,"lo":-31,"hi":7},{"m":"Random","x":68,"y":-8,"lo":-28,"hi":12},{"m":"Random","x":70,"y":-8,"lo":-28,"hi":12},{"m":"Random","x":72,"y":-4,"lo":-24,"hi":16},{"m":"Random","x":74,"y":-8,"lo":-28,"hi":12},{"m":"Random","x":76,"y":-4,"lo":-24,"hi":16},{"m":"Random","x":78,"y":0,"lo":-20,"hi":20},{"m":"Random","x":79,"y":-8,"lo":-28,"hi":12},{"m":"Random","x":80,"y":3,"lo":-17,"hi":23},{"m":"Random","x":82,"y":14,"lo":-7,"hi":35},{"m":"Random","x":84,"y":18,"lo":-3,"hi":39},{"m":"Random","x":86,"y":25,"lo":3,"hi":47},{"m":"Random","x":88,"y":29,"lo":7,"hi":51},{"m":"Random","x":90,"y":33,"lo":11,"hi":55},{"m":"Random","x":92,"y":29,"lo":6,"hi":52},{"m":"Random","x":94,"y":40,"lo":17,"hi":63},{"m":"Random","x":96,"y":44,"lo":20,"hi":68},{"m":"Random","x":98,"y":47,"lo":22,"hi":72},{"m":"Random","x":100,"y":62,"lo":35,"hi":89},{"m":"Random","x":102,"y":58,"lo":30,"hi":86},{"m":"Random","x":104,"y":62,"lo":34,"hi":90},{"m":"Random","x":106,"y":70,"lo":41,"hi":99},{"m":"Random","x":108,"y":77,"lo":47,"hi":107},{"m":"Random","x":110,"y":81,"lo":51,"hi":111},{"m":"Random","x":112,"y":82,"lo":52,"hi":112},{"m":"Random","x":114,"y":84,"lo":54,"hi":114},{"m":"Random","x":116,"y":86,"lo":56,"hi":116},{"m":"Random","x":118,"y":89,"lo":59,"hi":119},{"m":"Random","x":120,"y":92,"lo":62,"hi":122},{"m":"Random","x":122,"y":95,"lo":65,"hi":125},{"m":"Random","x":124,"y":99,"lo":69,"hi":129},{"m":"Random","x":126,"y":100,"lo":70,"hi":130},{"m":"Random","x":128,"y":103,"lo":73,"hi":133},{"m":"Random","x":130,"y":106,"lo":76,"hi":136},{"m":"Random","x":132,"y":110,"lo":78,"hi":142},{"m":"Random","x":134,"y":114,"lo":81,"hi":147},{"m":"Random","x":136,"y":117,"lo":83,"hi":151},{"m":"Random","x":137,"y":103,"lo":68,"hi":138},{"m":"Random","x":138,"y":114,"lo":78,"hi":150},{"m":"Random","x":140,"y":125,"lo":87,"hi":163},{"m":"Random","x":142,"y":132,"lo":92,"hi":172},{"m":"Random","x":143,"y":140,"lo":98,"hi":182},{"m":"Random","x":144,"y":129,"lo":86,"hi":172},{"m":"Random","x":146,"y":121,"lo":76,"hi":166},{"m":"Random","x":148,"y":136,"lo":91,"hi":181},{"m":"Random","x":149,"y":106,"lo":61,"hi":151},{"m":"Random","x":150,"y":121,"lo":76,"hi":166}
]
},
"columns": 3,
"align": {"row": "each", "column": "none"},
"spacing": {"row": 12, "column": 16},
"concat": [
{"title": "FrozenLake", "width": 345, "height": 173, "data": {"name": "fl"},
 "encoding": {"x": {"field": "x", "type": "quantitative", "scale": {"domain": [-1.5, 31.5], "nice": false, "zero": false}, "axis": {"values": [0, 10, 20, 30], "title": null}}},
 "layer": [
  {"mark": {"type": "area", "clip": true, "fillOpacity": 0.28}, "encoding": {"y": {"field": "lo", "type": "quantitative", "stack": null, "scale": {"domain": [-0.038, 1.059], "nice": false, "zero": false}, "axis": {"values": [0, 0.25, 0.5, 0.75, 1], "format": ".2f", "title": "Return"}}, "y2": {"field": "hi"}, "fill": {"field": "m", "type": "nominal", "scale": {"domain": ["Standard", "IIF (Ours)", "Random"], "range": ["#000000", "#ff0000", "#2b2bff"]}, "legend": null}}},
  {"mark": {"type": "line", "clip": true, "strokeWidth": 1.6}, "encoding": {"y": {"field": "y", "type": "quantitative", "scale": {"domain": [-0.038, 1.059], "nice": false, "zero": false}, "axis": {"values": [0, 0.25, 0.5, 0.75, 1], "format": ".2f", "title": "Return"}}, "color": {"field": "m", "type": "nominal", "scale": {"domain": ["IIF (Ours)", "Standard", "Random"], "range": ["#ff0000", "#000000", "#2b2bff"]}, "legend": {"orient": "none", "legendX": 12, "legendY": -78, "direction": "horizontal", "title": "(a) Test returns over training rounds.", "titleOrient": "left", "titlePadding": 56, "titleLimit": 700, "titleFont": "Liberation Serif", "titleFontSize": 32, "titleFontWeight": "normal", "titleColor": "#000", "labelFont": "Liberation Serif", "labelFontSize": 31, "labelColor": "#000", "labelLimit": 300, "labelOffset": 15, "columnPadding": 38, "symbolType": "stroke", "symbolSize": 1849, "symbolStrokeWidth": 2.5}}}}
 ]},
{"title": "Acrobot", "width": 345, "height": 173, "data": {"name": "ac"},
 "encoding": {"x": {"field": "x", "type": "quantitative", "scale": {"domain": [4, 20.45], "nice": false, "zero": false}, "axis": {"values": [5, 10, 15, 20], "title": null}}},
 "layer": [
  {"mark": {"type": "area", "clip": true, "fillOpacity": 0.28}, "encoding": {"y": {"field": "lo", "type": "quantitative", "stack": null, "scale": {"domain": [-220, -80], "nice": false, "zero": false}, "axis": {"values": [-200, -150, -100], "title": null, "minExtent": 54}}, "y2": {"field": "hi"}, "fill": {"field": "m", "type": "nominal", "scale": {"domain": ["Standard", "IIF (Ours)", "Random"], "range": ["#000000", "#ff0000", "#2b2bff"]}, "legend": null}}},
  {"mark": {"type": "line", "clip": true, "strokeWidth": 1.6}, "encoding": {"y": {"field": "y", "type": "quantitative", "scale": {"domain": [-220, -80], "nice": false, "zero": false}, "axis": {"values": [-200, -150, -100], "title": null, "minExtent": 54}}, "color": {"field": "m", "type": "nominal", "scale": {"domain": ["IIF (Ours)", "Standard", "Random"], "range": ["#ff0000", "#000000", "#2b2bff"]}, "legend": {"orient": "none", "legendX": 12, "legendY": -78, "direction": "horizontal", "title": "(a) Test returns over training rounds.", "titleOrient": "left", "titlePadding": 56, "titleLimit": 700, "titleFont": "Liberation Serif", "titleFontSize": 32, "titleFontWeight": "normal", "titleColor": "#000", "labelFont": "Liberation Serif", "labelFontSize": 31, "labelColor": "#000", "labelLimit": 300, "labelOffset": 15, "columnPadding": 38, "symbolType": "stroke", "symbolSize": 1849, "symbolStrokeWidth": 2.5}}}}
 ]},
{"title": "MiniGrid", "width": 345, "height": 173, "data": {"name": "mg"},
 "encoding": {"x": {"field": "x", "type": "quantitative", "scale": {"domain": [-2, 42], "nice": false, "zero": false}, "axis": {"values": [0, 10, 20, 30, 40], "title": null}}},
 "layer": [
  {"mark": {"type": "area", "clip": true, "fillOpacity": 0.28}, "encoding": {"y": {"field": "lo", "type": "quantitative", "stack": null, "scale": {"domain": [0.052, 0.783], "nice": false, "zero": false}, "axis": {"values": [0.2, 0.4, 0.6], "format": ".1f", "title": null, "minExtent": 43}}, "y2": {"field": "hi"}, "fill": {"field": "m", "type": "nominal", "scale": {"domain": ["Standard", "IIF (Ours)", "Random"], "range": ["#000000", "#ff0000", "#2b2bff"]}, "legend": null}}},
  {"mark": {"type": "line", "clip": true, "strokeWidth": 1.6}, "encoding": {"y": {"field": "y", "type": "quantitative", "scale": {"domain": [0.052, 0.783], "nice": false, "zero": false}, "axis": {"values": [0.2, 0.4, 0.6], "format": ".1f", "title": null, "minExtent": 43}}, "color": {"field": "m", "type": "nominal", "scale": {"domain": ["IIF (Ours)", "Standard", "Random"], "range": ["#ff0000", "#000000", "#2b2bff"]}, "legend": {"orient": "none", "legendX": 12, "legendY": -78, "direction": "horizontal", "title": "(a) Test returns over training rounds.", "titleOrient": "left", "titlePadding": 56, "titleLimit": 700, "titleFont": "Liberation Serif", "titleFontSize": 32, "titleFontWeight": "normal", "titleColor": "#000", "labelFont": "Liberation Serif", "labelFontSize": 31, "labelColor": "#000", "labelLimit": 300, "labelOffset": 15, "columnPadding": 38, "symbolType": "stroke", "symbolSize": 1849, "symbolStrokeWidth": 2.5}}}}
 ]},
{"title": "Highway", "width": 346, "height": 172, "data": {"name": "hw"},
 "encoding": {"x": {"field": "x", "type": "quantitative", "scale": {"domain": [-1.25, 26.25], "nice": false, "zero": false}, "axis": {"values": [0, 5, 10, 15, 20, 25], "title": "Round"}}},
 "layer": [
  {"mark": {"type": "area", "clip": true, "fillOpacity": 0.28}, "encoding": {"y": {"field": "lo", "type": "quantitative", "stack": null, "scale": {"domain": [10.47, 28.85], "nice": false, "zero": false}, "axis": {"values": [15, 20, 25], "title": "Return", "minExtent": 41}}, "y2": {"field": "hi"}, "fill": {"field": "m", "type": "nominal", "scale": {"domain": ["Standard", "IIF (Ours)", "Random"], "range": ["#000000", "#ff0000", "#2b2bff"]}, "legend": null}}},
  {"mark": {"type": "line", "clip": true, "strokeWidth": 1.6}, "encoding": {"y": {"field": "y", "type": "quantitative", "scale": {"domain": [10.47, 28.85], "nice": false, "zero": false}, "axis": {"values": [15, 20, 25], "title": "Return", "minExtent": 41}}, "color": {"field": "m", "type": "nominal", "scale": {"domain": ["IIF (Ours)", "Standard", "Random"], "range": ["#ff0000", "#000000", "#2b2bff"]}, "legend": {"orient": "none", "legendX": 12, "legendY": -78, "direction": "horizontal", "title": "(a) Test returns over training rounds.", "titleOrient": "left", "titlePadding": 56, "titleLimit": 700, "titleFont": "Liberation Serif", "titleFontSize": 32, "titleFontWeight": "normal", "titleColor": "#000", "labelFont": "Liberation Serif", "labelFontSize": 31, "labelColor": "#000", "labelLimit": 300, "labelOffset": 15, "columnPadding": 38, "symbolType": "stroke", "symbolSize": 1849, "symbolStrokeWidth": 2.5}}}}
 ]},
{"title": "LunarLander", "width": 345, "height": 172, "data": {"name": "ll"},
 "encoding": {"x": {"field": "x", "type": "quantitative", "scale": {"domain": [-5, 105], "nice": false, "zero": false}, "axis": {"values": [0, 20, 40, 60, 80, 100], "title": "Round"}}},
 "layer": [
  {"mark": {"type": "area", "clip": true, "fillOpacity": 0.28}, "encoding": {"y": {"field": "lo", "type": "quantitative", "stack": null, "scale": {"domain": [-205.7, 220], "nice": false, "zero": false}, "axis": {"values": [-200, -100, 0, 100, 200], "title": null, "minExtent": 54}}, "y2": {"field": "hi"}, "fill": {"field": "m", "type": "nominal", "scale": {"domain": ["Standard", "IIF (Ours)", "Random"], "range": ["#000000", "#ff0000", "#2b2bff"]}, "legend": null}}},
  {"mark": {"type": "line", "clip": true, "strokeWidth": 1.6}, "encoding": {"y": {"field": "y", "type": "quantitative", "scale": {"domain": [-205.7, 220], "nice": false, "zero": false}, "axis": {"values": [-200, -100, 0, 100, 200], "title": null, "minExtent": 54}}, "color": {"field": "m", "type": "nominal", "scale": {"domain": ["IIF (Ours)", "Standard", "Random"], "range": ["#ff0000", "#000000", "#2b2bff"]}, "legend": {"orient": "none", "legendX": 12, "legendY": -78, "direction": "horizontal", "title": "(a) Test returns over training rounds.", "titleOrient": "left", "titlePadding": 56, "titleLimit": 700, "titleFont": "Liberation Serif", "titleFontSize": 32, "titleFontWeight": "normal", "titleColor": "#000", "labelFont": "Liberation Serif", "labelFontSize": 31, "labelColor": "#000", "labelLimit": 300, "labelOffset": 15, "columnPadding": 38, "symbolType": "stroke", "symbolSize": 1849, "symbolStrokeWidth": 2.5}}}}
 ]},
{"title": "BipedalWalker", "width": 339, "height": 172, "data": {"name": "bw"},
 "encoding": {"x": {"field": "x", "type": "quantitative", "scale": {"domain": [-7.3, 156], "nice": false, "zero": false}, "axis": {"values": [0, 50, 100, 150], "title": "Round"}}},
 "layer": [
  {"mark": {"type": "area", "clip": true, "fillOpacity": 0.28}, "encoding": {"y": {"field": "lo", "type": "quantitative", "stack": null, "scale": {"domain": [-129.4, 250], "nice": false, "zero": false}, "axis": {"values": [-100, 0, 100, 200], "title": null, "minExtent": 52}}, "y2": {"field": "hi"}, "fill": {"field": "m", "type": "nominal", "scale": {"domain": ["Standard", "IIF (Ours)", "Random"], "range": ["#000000", "#ff0000", "#2b2bff"]}, "legend": null}}},
  {"mark": {"type": "line", "clip": true, "strokeWidth": 1.6}, "encoding": {"y": {"field": "y", "type": "quantitative", "scale": {"domain": [-129.4, 250], "nice": false, "zero": false}, "axis": {"values": [-100, 0, 100, 200], "title": null, "minExtent": 52}}, "color": {"field": "m", "type": "nominal", "scale": {"domain": ["IIF (Ours)", "Standard", "Random"], "range": ["#ff0000", "#000000", "#2b2bff"]}, "legend": {"orient": "none", "legendX": 12, "legendY": -78, "direction": "horizontal", "title": "(a) Test returns over training rounds.", "titleOrient": "left", "titlePadding": 56, "titleLimit": 700, "titleFont": "Liberation Serif", "titleFontSize": 32, "titleFontWeight": "normal", "titleColor": "#000", "labelFont": "Liberation Serif", "labelFontSize": 31, "labelColor": "#000", "labelLimit": 300, "labelOffset": 15, "columnPadding": 38, "symbolType": "stroke", "symbolSize": 1849, "symbolStrokeWidth": 2.5}}}}
 ]}
]
}
